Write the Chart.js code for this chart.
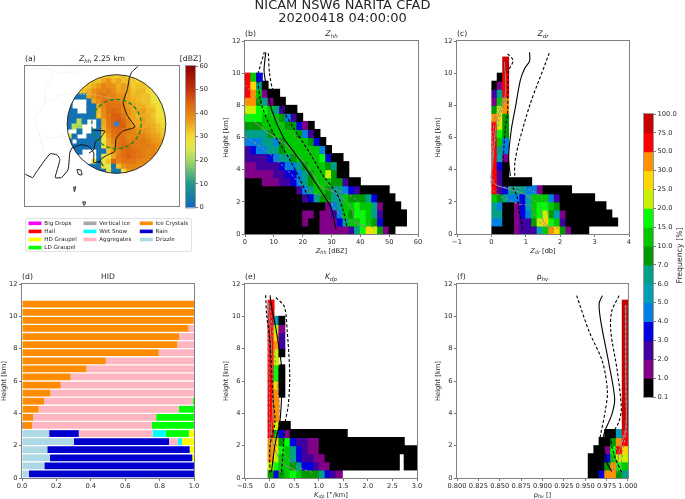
<!DOCTYPE html>
<html><head><meta charset="utf-8">
<style>html,body{margin:0;padding:0;background:#fff;width:685px;height:499px;overflow:hidden}
canvas{position:absolute;display:block}
#lb{position:absolute;left:25px;top:218px;width:165px;height:32px;border:1px solid #e2e2e2;border-radius:2px}</style>
<script src="https://cdn.jsdelivr.net/npm/chart.js@4/dist/chart.umd.js"></script>
</head><body><div id="lb"></div>
<script>
// ---------- shared scale / colour tables ----------
const freqBounds = [0.1,1,2,3,4,5,6,7,10,15,20,25,30,50,75,100];
const freqColors = ['#000000','#800088','#4000a0','#0000e0','#0080e0','#009fb4','#009f88','#009900','#00c800','#00ff00','#c8f000','#ffd700','#ff9000','#ff0000','#c80000'];
const freqTickLabels = ['0.1','1.0','2.0','3.0','4.0','5.0','6.0','7.0','10.0','15.0','20.0','25.0','30.0','50.0','75.0','100.0'];
const dbzStops = [0,10,20,25,30,38,45,50,60];
const dbzStopColors = [[16,104,190],[30,150,140],[160,216,100],[222,232,80],[242,222,54],[234,146,22],[218,96,16],[200,50,14],[140,0,0]];
const heightBinsKm = [0.25,0.75,1.25,1.75,2.25,2.75,3.25,3.75,4.25,4.75,5.25,5.75,6.25,6.75,7.25,7.75,8.25,8.75,9.25,9.75,10.25,10.75];

// ---------- Z_hh CFAD: each row is [edge, freq, edge, freq, ..., edge], bottom row first ----------
const zhhRows = [
[0,.5,26,1.5,36,2.5,38,6.5,40,17,42,27,44,22,46,8.5,48,1.5,50,.5,52],
[0,.5,20,1.5,22,.5,26,1.5,32,3.5,34,6.5,36,12,40,17,42,12,44,8.5,46,3.5,48,.5,56],
[0,.5,20,1.5,24,.5,26,1.5,30,2.5,32,4.5,34,12,36,8.5,38,17,42,12,44,6.5,46,2.5,48,.5,56],
[0,.5,28,1.5,30,4.5,32,6.5,34,12,38,17,40,12,44,6.5,46,1.5,48,.5,54],
[0,.5,20,2.5,22,3.5,24,6.5,26,8.5,30,6.5,34,12,36,8.5,42,6.5,44,3.5,46,.5,52],
[0,.5,18,2.5,20,4.5,22,6.5,24,12,28,8.5,30,6.5,34,4.5,36,3.5,38,2.5,40,.5,50],
[0,.5,6,1.5,12,2.5,16,3.5,18,4.5,20,6.5,22,8.5,24,12,30,8.5,34,2.5,36,.5,40],
[0,1.5,10,2.5,14,3.5,18,4.5,20,6.5,22,8.5,24,12,28,22,30,8.5,32,.5,36],
[0,1.5,4,2.5,12,3.5,14,4.5,18,6.5,20,8.5,22,12,28,8.5,30,6.5,32,.5,36],
[0,2.5,8,3.5,10,4.5,12,6.5,16,8.5,18,12,26,17,28,3.5,30,.5,34],
[0,2.5,2,3.5,4,4.5,8,6.5,12,8.5,14,12,26,4.5,28,.5,30],
[0,4.5,6,6.5,10,4.5,12,8.5,14,12,22,8.5,24,3.5,26,.5,28],
[0,6.5,8,8.5,10,12,18,8.5,20,4.5,22,2.5,24,.5,26],
[0,8.5,6,12,14,8.5,18,3.5,20,1.5,22,.5,24],
[0,17,6,12,12,8.5,14,4.5,16,2.5,18,.5,20],
[0,22,4,17,8,12,10,6.5,12,2.5,14,.5,18],
[0,40,4,8.5,6,6.5,8,1.5,10,.5,14],
[0,60,2,40,4,12,6,1.5,8,.5,12],
[0,60,2,27,4,6.5,6,.5,8],
[0,60,2,12,4,3.5,6]];
const zdrRows = [
[0,.5,.67,1.5,.83,2.5,1.33,5.5,1.5,12,1.67,40,1.83,27,2,8.5,2.17,1.5,2.33,.5,2.83],
[0,4.5,.33,.5,.67,1.5,.83,2.5,1.17,8.5,1.33,22,1.5,27,1.67,17,1.83,12,2,2.5,2.17,.5,3.67],
[0,6.5,.33,.5,.67,1.5,.83,3.5,1,4.5,1.17,12,1.33,17,1.5,22,1.67,8.5,1.83,5.5,2,1.5,2.17,.5,3.5],
[0,6.5,.17,4.5,.33,.5,.67,1.5,.83,3.5,1,5.5,1.17,12,1.33,17,1.67,12,1.83,8.5,2,.5,3.33],
[0,12,.17,8.5,.33,6.5,.5,4.5,.83,3.5,1,5.5,1.17,12,1.67,4.5,1.83,2.5,2,.5,3],
[0,60,.17,2.5,.33,3.5,.5,6.5,1,4.5,1.33,1.5,1.5,.5,2.33],
[0,60,.17,2.5,.33,.5,1.17],
[0,60,.17,2.5,.33,.5,.5],
[0,60,.17,3.5,.33,.5,.5],
[0,60,.17,5.5,.33,1.5,.5],
[0,60,.17,6.5,.33,4.5,.5],
[0,60,.17,12,.33,4.5,.5],
[0,60,.17,17,.33,8.5,.5],
[0,60,.17,22,.33,8.5,.5],
[0,40,.17,27,.33,8.5,.5],
[0,8.5,.17,22,.33,40,.5],
[0,1.5,.17,12,.33,40,.5],
[0,2.5,.17,6.5,.33,60,.5],
[0,.5,.17,1.5,.33,60,.5],
[.17,.5,.33,60,.5],
[.33,90,.5],
[.33,90,.5]];
const kdpRows = [
[-.03,8.5,.09,3.5,.19,8.5,.31,12,.42,17,.55,12,.66,8.5,1.01,6.5,1.13,3.5,1.23,2.5,1.36,1.5,1.48],
[-.03,22,.09,17,.19,12,.42,8.5,.55,6.5,.66,3.5,.9,2.5,1.01,1.5,1.23,.5,2.64,null,2.74,.5,3],
[-.03,40,.09,22,.19,12,.42,6.5,.55,3.5,.66,2.5,.9,1.5,1.13,.5,2.64,null,2.74,.5,3],
[-.03,40,.09,27,.19,17,.31,12,.42,6.5,.55,3.5,.66,2.5,.78,1.5,1.01,.5,3],
[-.03,40,.09,27,.19,8.5,.31,17,.42,3.5,.55,2.5,.78,1.5,1.01,.5,2.74],
[-.03,60,.09,8.5,.19,3.5,.31,1.5,.42,.5,1.58],
[-.03,60,.09,22,.19,.5,.42],
[-.03,60,.09,40,.19],
[-.03,60,.09,40,.19],
[-.03,60,.09,40,.19],
[-.03,60,.09,40,.19,.5,.31],
[-.03,60,.09,27,.19,.5,.31],
[-.03,60,.09,17,.19,.5,.31],
[-.03,60,.09,17,.19,.5,.31],
[-.03,60,.09,22,.19],
[-.03,60,.09,22,.19,.5,.31],
[-.03,60,.09,40,.19,2.5,.31],
[-.03,60,.09,27,.19,2.5,.31],
[-.03,60,.09,22,.19,1.5,.31],
[-.03,60,.09,5.5,.19,.5,.31],
[-.03,60,.09],
[-.03,60,.09]];
const rhvRows = [
[.9536,.5,.9663,3.5,.9729,40,.9865,8.5,.9934,6.5,1],
[.9536,.5,.9729,8.5,.9799,40,.9865,17,.9934,12,1],
[.9536,.5,.9729,3.5,.9799,12,.9865,22,1],
[.9602,.5,.9729,1.5,.9799,17,.9865,60,.9934,27,1],
[.9663,.5,.9799,8.5,.9865,40,.9934,60,1],
[.9729,.5,.9865,5.5,.9934,60,1],
[.9934,90,1],[.9934,90,1],[.9934,90,1],[.9934,90,1],[.9934,90,1],[.9934,90,1],[.9934,90,1],[.9934,90,1],
[.9934,90,1],[.9934,90,1],[.9934,90,1],[.9934,90,1],[.9934,90,1],[.9934,90,1],[.9934,90,1],[.9934,90,1]];

// ---------- profile lines: [value, height] ----------
const zhhMean=[[31.6,.25],[30.1,1.5],[28.4,2.1],[25.1,3],[21.4,4],[17.4,5],[13.3,6],[9.3,7.7],[7,9.6],[6.6,10.2],[7.2,11.3]];
const zhhLow=[[22.6,2],[19.7,3.15],[15.6,4.6],[9.8,6.3],[5.8,8],[4.4,9.6],[4.6,10],[6.7,11.3]];
const zhhHigh=[[35.3,.5],[34,1.5],[31.9,2.5],[27.2,3.6],[22.6,5],[16.8,6.6],[12.2,8],[9.6,9],[8.5,10],[8.1,11.3]];
const zhhGrayMean=[[0,7.5],[6.4,6.5],[13,5.7],[20,4.6],[24,3.6],[26,3],[32,2.5],[37,1.6],[38,.9],[42,.4]];
const zhhGrayLow=[[0,6.05],[6.4,5.3],[14.5,4],[21.4,2.75],[28.4,2.2],[33.6,1.1],[41.7,.4]];
const zhhGrayHigh=[[0,9.3],[6.4,7.9],[14.5,6.5],[22,5.3],[25.5,4.1],[29.5,3],[38.8,2.1],[40.5,1.1],[45.2,.25]];
const zdrMean=[[1.11,11.3],[1.11,10.75],[.97,10.3],[.84,9.55],[.7,7.9],[.58,6.5],[.5,4.8],[.55,3.6]];
const zdrMeanLower=[[.62,2.9],[.75,2.3],[.8,1.5],[.92,.25]];
const zdrLow=[[.47,11.2],[.63,10.8],[.5,10.1],[.47,7.5],[.4,6.5],[.34,4.4]];
const zdrHigh=[[1.68,11.25],[1.57,10.6],[1.13,8.1],[.79,5.6],[.68,4.4],[.68,3.6]];
const zdrGrayMean=[[.38,10.7],[.41,8.7],[.16,7.1],[.04,4.4],[.04,3.2],[.94,2.5],[1.42,1.7],[1.5,.8],[1.83,.27]];
const zdrGrayLow=[[.34,8.5],[.09,7.1],[.02,4.4],[.04,2.75],[.74,1.9],[1.18,1.7],[1.32,.9],[1.71,.27]];
const zdrGrayHigh=[[.47,8.6],[.2,6.9],[.07,3.2],[1.13,2.75],[1.6,1.9],[1.66,1.1],[1.95,.3]];
const kdpMean=[[.01,11.3],[.04,10.6],[.14,9.05],[.24,7],[.25,5.55],[.21,3.5],[.11,2.05],[.04,.4]];
const kdpLow=[[-.08,11.3],[-.06,10.1],[.01,8.4],[.07,4.9],[.11,3.5],[.01,2],[.01,.2]];
const kdpHigh=[[.13,11.15],[.3,10.6],[.36,9.05],[.41,6.4],[.38,4.5],[.31,3.3],[.275,1.65],[.24,.2]];
const kdpGrayMean=[[-.03,10.9],[.04,8],[.06,4],[.04,2.5],[.24,1],[.58,.4]];
const kdpGrayLow=[[-.04,10.6],[0,5],[.01,2.2],[.08,1],[.24,.3]];
const kdpGrayHigh=[[.01,10.7],[.12,7],[.21,3.5],[.11,2.25],[.51,.8],[.91,.3]];
const rhvMean=[[.9702,11.28],[.9663,10.8],[.9683,9.67],[.978,7],[.9845,4.9],[.981,3.9],[.973,2.9],[.971,2.4],[.975,1],[.981,.4]];
const rhvLow=[[.94,11.28],[.9547,9.05],[.9702,7.2],[.976,5.35],[.9733,4.1],[.968,2.67],[.967,2.4]];
const rhvHigh=[[.9896,11.28],[.981,10.3],[.98,9.05],[.9876,6.6],[.9923,4.3],[.9896,3.5],[.9837,2.9],[.98,2.47],[.984,1.4],[.993,.3]];
const rhvGrayMean=[[.9973,10.7],[.9975,6],[.9975,3],[.99,1.7],[.987,.3]];
const rhvGrayLow=[[.9969,10.7],[.997,6],[.9971,3],[.985,1.6],[.983,.3]];
const rhvGrayHigh=[[.9977,10.7],[.9978,6],[.998,3],[.994,1.7],[.991,.3]];

// ---------- HID fractions per height bin, bottom bin first ----------
const hidDrizzle=[.04,.13,.163,.147,.302,.158,0,0,0,0,0,0,0,0,0,0,0,0,0,0,0,0];
const hidRain=[.96,.87,.827,.828,.553,.172,.005,0,0,0,0,0,0,0,0,0,0,0,0,0,0,0];
const hidIce=[0,0,0,0,0,0,.053,.065,.097,.128,.165,.225,.283,.375,.487,.795,.903,.913,.968,.998,1,1];
const hidAggregates=[0,0,0,0,.05,.43,.697,.715,.815,.865,.835,.775,.717,.625,.513,.205,.097,.087,.032,.002,0,0];
const hidWetSnow=[0,0,0,0,.025,.075,0,0,0,0,0,0,0,0,0,0,0,0,0,0,0,0];
const hidLD=[0,0,0,0,0,.135,.245,.22,.088,.007,0,0,0,0,0,0,0,0,0,0,0,0];
const hidHD=[0,0,.01,.025,.07,.03,0,0,0,0,0,0,0,0,0,0,0,0,0,0,0,0];
const hidStack=[['Drizzle',hidDrizzle,'#add8e6'],['Rain',hidRain,'#0000cd'],['Ice Crystals',hidIce,'#ff8c00'],['Aggregates',hidAggregates,'#ffb6c1'],['Wet Snow',hidWetSnow,'#00ffff'],['LD Graupel',hidLD,'#00ff00'],['HD Graupel',hidHD,'#ffff00']];
const legendNames=['Big Drops','Hail','HD Graupel','LD Graupel   ','Vertical Ice    ','Wet Snow','Aggregates','','Ice Crystals','Rain','Drizzle'];
const legendColors=['#ff00ff','#ff0000','#ffff00','#00ff00','#a9a9a9','#00ffff','#ffb6c1','rgba(0,0,0,0)','#ff8c00','#0000cd','#add8e6'];

// ---------- PPI Z_hh 2.25 km, 15 km cells from NW corner (-150,150); null = no echo ----------
const n=null;
const ppiGrid=[
[30,30,30,30,30,30,31,31,33,32,32,34,31,31,31,31,31,30,30,30],
[30,30,30,30,31,33,33,36,38,34,36,33,34,32,31,32,31,30,30,30],
[30,30,30,31,33,35,37,40,38,38,35,37,35,32,33,33,31,30,29,29],
[30,30,31,33,35,38,40,40,41,39,36,37,36,33,34,34,31,30,28,27],
[2,2,2,4,36,38,41,42,40,40,38,38,36,34,34,33,33,28,27,26],
[2,n,n,n,2,36,39,42,42,42,41,38,36,35,34,33,33,30,27,24],
[2,n,n,n,2,2,36,40,43,42,42,40,37,36,35,35,33,32,30,27],
[2,2,n,n,2,2,34,39,43,44,43,40,38,36,36,37,34,34,30,27],
[3,2,2,3,2,2,33,39,42,45,45,42,38,36,34,36,35,33,30,29],
[2,2,22,3,n,n,2,36,42,44,46,44,40,36,35,37,35,34,31,30],
[2,22,20,n,n,n,2,35,41,44,45,45,40,37,36,36,36,35,33,31],
[n,n,2,n,n,2,2,34,40,43,44,42,41,40,38,38,37,36,34,32],
[28,2,n,n,2,2,3,30,38,42,43,42,40,40,40,40,38,37,36,33],
[2,n,2,2,2,2,3,28,36,40,42,43,41,41,41,41,40,38,37,36],
[2,2,2,2,2,2,2,30,36,38,42,44,43,42,41,41,41,40,38,36],
[2,2,2,n,n,n,2,2,33,38,40,43,44,43,42,41,40,40,38,37],
[2,2,n,n,n,n,2,26,30,36,41,43,45,43,42,41,40,40,38,37],
[2,2,2,n,n,28,2,28,33,44,40,42,42,42,40,40,39,38,37,36],
[2,2,2,2,2,2,2,30,25,3,33,38,40,40,39,38,38,37,36,35],
[2,2,2,2,2,2,2,2,28,3,3,30,37,38,38,37,37,36,35,35]];
const ppiCellKm=15, ppiEdgeKm=-150;
const ringRadiiKm=[150,75];
const radarSite=[[0,0]];
const coastLines=[
[[65,172],[48,157],[40,142],[33,103],[20,64],[33,25],[56,-9],[19,-21],[-1,-43],[-6,-82],[-30,-94],[-45,-103],[-55,-116]],
[[-74,-19],[-35,-21],[-50,-43],[-64,-53],[-69,-77],[-84,-87]],
[[-136,-72],[-108,-62],[-84,-67],[-69,-87],[-69,-116],[-50,-111],[-40,-126]],
[[-277,-150],[-255,-160],[-245,-146],[-220,-111],[-201,-89],[-181,-92],[-172,-106],[-181,-140],[-186,-160],[-167,-160],[-147,-136],[-142,-87],[-136,-72]],
[[-120,-136],[-108,-138],[-105,-152],[-116,-150],[-120,-136]],
[[-130,-189],[-124,-187],[-128,-202],[-130,-189]],
[[-103,-233],[-94,-233],[-98,-243],[-103,-233]]];
const borderLines=[
[[-269,162],[-235,166],[-201,162],[-176,152],[-118,156],[-98,166]],
[[-201,162],[-196,133],[-220,103],[-215,64],[-176,84],[-147,89]],
[[-215,64],[-249,16],[-235,-33],[-220,-87]],
[[-235,-33],[-196,-43],[-157,-33],[-142,-82]],
[[-147,89],[-68,88],[-30,80],[20,70]]];

// ---------- helpers ----------
const FONT='"DejaVu Sans"', INK='#262626', TICK=6.7, TITLE=7.7;
Chart.defaults.font.family=FONT; Chart.defaults.color=INK;
Chart.defaults.animation=false; Chart.defaults.responsive=false;
Chart.defaults.plugins.legend.display=false; Chart.defaults.plugins.tooltip.enabled=false;

function freqColor(f){let i=0;while(i<freqColors.length-1&&f>=freqBounds[i+1])i++;return freqColors[i];}
function dbzColor(v){let i=0;while(i<dbzStops.length-2&&v>=dbzStops[i+1])i++;
  const t=Math.min(1,(v-dbzStops[i])/(dbzStops[i+1]-dbzStops[i]));
  const a=dbzStopColors[i],b=dbzStopColors[i+1];
  return 'rgb('+a.map((c,k)=>Math.round(c+(b[k]-c)*t)).join(',')+')';}
function heatDataset(rows){
  const data=[],colors=[];
  rows.forEach((r,i)=>{for(let k=0;k+2<r.length;k+=2){ if(r[k+1]==null)continue;
    data.push({x:[r[k],r[k+2]],y:heightBinsKm[i]});colors.push(freqColor(r[k+1]));}});
  return {type:'bar',data,backgroundColor:colors,barPercentage:1,categoryPercentage:1,inflateAmount:.5,order:3};
}
function line(pts,color,dash,order,w){return {type:'scatter',showLine:true,data:pts.map(p=>({x:p[0],y:p[1]})),
  borderColor:color,backgroundColor:color,borderWidth:w||1.1,borderDash:dash||[],pointRadius:0,tension:.3,order:order};}
function profileSets(mean,low,high,gm,gl,gh){return [
  line(gm,'#8c8c8c',[],2,1),line(gl,'#8c8c8c',[3,2],2,1),line(gh,'#8c8c8c',[3,2],2,1),
  line(mean,'#000',[],1),line(low,'#000',[3,2],1),line(high,'#000',[3,2],1)];}
function mathText(ctx,parts,x,y,size,align){
  const font=(p)=>(p[1]==='r'?'':'italic ')+(p[1]==='s'?size*.72:size)+'px '+FONT;
  let w=0;parts.forEach(p=>{ctx.font=font(p);w+=ctx.measureText(p[0]).width;});
  let cx=align==='left'?x:x-w/2;
  ctx.fillStyle=INK;ctx.textBaseline='middle';ctx.textAlign='left';
  parts.forEach(p=>{ctx.font=font(p);ctx.fillText(p[0],cx,y+(p[1]==='s'?size*.22:0));cx+=ctx.measureText(p[0]).width;});
}
function panelPlugin(tag,title,xlabel){return {id:'panelText',afterDraw(c){
  const {ctx,chartArea:a}=c;ctx.save();
  ctx.strokeStyle='#808080';ctx.lineWidth=1;
  ctx.strokeRect(a.left-.5,a.top-.5,a.right-a.left+1,a.bottom-a.top+1);
  mathText(ctx,[[tag,'r']],a.left,a.top-6.5,TITLE,'left');
  mathText(ctx,title,(a.left+a.right)/2,a.top-6.5,TITLE,'center');
  if(xlabel)mathText(ctx,xlabel,(a.left+a.right)/2,a.bottom+17,TICK,'center');
  ctx.restore();}};}
function linearAxis(min,max,step,fmt,extra){return Object.assign({type:'linear',min,max,offset:false,
  grid:{display:true,offset:false,drawOnChartArea:false,drawTicks:true,tickLength:3,color:'#555',tickWidth:.8},
  border:{display:false},
  ticks:{stepSize:step,autoSkip:false,maxRotation:0,minRotation:0,padding:1.5,font:{size:TICK},color:INK,callback:fmt},
  afterFit:s=>{}},extra||{});}
function place(box,m,cfg){
  const cv=document.createElement('canvas');
  const W=box.r-box.l+m.l+m.r,H=box.b-box.t+m.t+m.b;
  cv.width=W;cv.height=H;cv.style.left=(box.l-m.l)+'px';cv.style.top=(box.t-m.t)+'px';
  cv.style.width=W+'px';cv.style.height=H+'px';document.body.appendChild(cv);
  const o=cfg.options=cfg.options||{};
  o.events=[];o.maintainAspectRatio=false;
  const sx=o.scales.x,sy=o.scales.y;
  o.layout={padding:{left:sy.display===false||sy.position==='right'?m.l:0,top:m.t,
    right:sy.position==='right'?0:m.r,bottom:sx.display===false?m.b:0}};
  if(sx.display!==false)sx.afterFit=s=>{s.height=m.b;};
  if(sy.display!==false)sy.afterFit=s=>{s.width=sy.position==='right'?m.r:m.l;};
  return new Chart(cv,cfg);
}
const M={l:23,r:10,t:13,b:24};
const yAxis=()=>{const a=linearAxis(0,12,2,v=>String(v));
  a.title={display:true,text:'Height [km]',font:{size:TICK},color:INK,padding:0};return a;};
function cfadPanel(box,tag,title,xlabel,rows,lines,xmin,xmax,step,fmt){
  place(box,M,{type:'bar',data:{datasets:[heatDataset(rows)].concat(lines)},
    options:{indexAxis:'y',scales:{x:linearAxis(xmin,xmax,step,fmt),y:yAxis()}},
    plugins:[panelPlugin(tag,title,xlabel)]});
}
const Zhh=[['Z','i'],['hh','s']],Zdr=[['Z','i'],['dr','s']],Kdp=[['K','i'],['dp','s']],Rhv=[['ρ','r'],['hv','s']];

// ---------- figure title ----------
place({l:0,r:685,t:0,b:26},{l:0,r:0,t:0,b:0},{type:'bar',data:{datasets:[]},options:{
  scales:{x:{display:false},y:{display:false}},
  plugins:{title:{display:true,text:['NICAM NSW6 NARITA CFAD','20200418 04:00:00'],padding:{top:0,bottom:0},
    font:{size:13,weight:'normal',lineHeight:.94},color:INK}}}});

// ---------- (a) PPI ----------
(function(){
  const cells=[],colors=[];
  ppiGrid.forEach((row,i)=>row.forEach((v,j)=>{ if(v==null)return;
    cells.push({x:[ppiEdgeKm+j*ppiCellKm,ppiEdgeKm+(j+1)*ppiCellKm],y:-ppiEdgeKm-(i+.5)*ppiCellKm});colors.push(dbzColor(v));}));
  const sets=[{type:'bar',radar:true,data:cells,backgroundColor:colors,barPercentage:1,categoryPercentage:1,inflateAmount:.5,order:5}];
  borderLines.forEach(l=>sets.push(Object.assign(line(l,'#dcdcdc',[1.5,1.5],4,.6),{tension:0})));
  coastLines.forEach(l=>sets.push(Object.assign(line(l,'#111',[],2,1),{tension:.15})));
  sets.push({type:'scatter',data:radarSite.map(p=>({x:p[0],y:p[1]})),backgroundColor:'#3d7fc4',borderColor:'#3d7fc4',pointRadius:2.4,order:1});
  place({l:22,r:182,t:66,b:209},{l:2,r:2,t:13,b:2},{type:'bar',data:{datasets:sets},
    options:{indexAxis:'y',scales:{
      x:{type:'linear',display:false,min:-278,max:190,offset:false},
      y:{type:'linear',display:false,min:-245,max:173.4,offset:false}}},
    plugins:[{id:'discClip',
      beforeDatasetDraw(c,args){ if(!c.data.datasets[args.index].radar)return;
        const x=c.scales.x,y=c.scales.y,ctx=c.ctx;ctx.save();ctx.beginPath();
        ctx.arc(x.getPixelForValue(0),y.getPixelForValue(0),x.getPixelForValue(ringRadiiKm[0])-x.getPixelForValue(0),0,7);ctx.clip();},
      afterDatasetDraw(c,args){ if(c.data.datasets[args.index].radar)c.ctx.restore();},
      afterDatasetsDraw(c){const x=c.scales.x,y=c.scales.y,ctx=c.ctx,cx=x.getPixelForValue(0),cy=y.getPixelForValue(0);
        ctx.save();
        ctx.strokeStyle='#1f1f1f';ctx.lineWidth=.9;ctx.beginPath();ctx.arc(cx,cy,x.getPixelForValue(ringRadiiKm[0])-cx,0,7);ctx.stroke();
        ctx.strokeStyle='#128a22';ctx.lineWidth=1.3;ctx.setLineDash([4,2.4]);ctx.beginPath();ctx.arc(cx,cy,x.getPixelForValue(ringRadiiKm[1])-cx,0,7);ctx.stroke();
        ctx.restore();}},
      panelPlugin('(a)',[['Z','i'],['hh','s'],[' 2.25 km','r']],null)]});
})();
// dBZ colour bar
(function(){
  const steps=[];for(let v=0;v<60;v++)steps.push(v);
  const ds={type:'bar',data:steps.map(v=>({x:[0,1],y:v+.5})),backgroundColor:steps.map(v=>dbzColor(v+.5)),barPercentage:1,categoryPercentage:1,inflateAmount:.5};
  const ya=linearAxis(0,60,10,v=>String(v),{position:'right'});
  place({l:186,r:195,t:66,b:209},{l:8,r:18,t:13,b:4},{type:'bar',data:{datasets:[ds]},
    options:{indexAxis:'y',scales:{x:{type:'linear',display:false,min:0,max:1,offset:false},y:ya}},
    plugins:[{id:'unit',afterDraw(c){const a=c.chartArea,ctx=c.ctx;ctx.save();
      ctx.strokeStyle='#808080';ctx.lineWidth=.8;ctx.strokeRect(a.left-.5,a.top-.5,a.right-a.left+1,a.bottom-a.top+1);
      mathText(ctx,[['[dBZ]','r']],a.left+4.5,a.top-6.5,TITLE,'center');ctx.restore();}}]});
})();

// ---------- legend ----------
place({l:26,r:191,t:218,b:255},{l:0,r:0,t:0,b:0},{type:'bar',
  data:{datasets:legendNames.map((nm,i)=>({label:nm,data:[],backgroundColor:legendColors[i]}))},
  options:{scales:{x:{display:false},y:{display:false}},
    plugins:{legend:{display:true,position:'left',align:'start',maxWidth:165,
      labels:{boxWidth:13,boxHeight:3.6,padding:2.5,font:{size:5.6},color:INK}}}}});

// ---------- CFAD panels ----------
const int=v=>String(v), one=v=>Number(v).toFixed(1), three=v=>Number(v).toFixed(3);
cfadPanel({l:245,r:418,t:41,b:234},'(b)',Zhh,Zhh.concat([[' [dBZ]','r']]),zhhRows,profileSets(zhhMean,zhhLow,zhhHigh,zhhGrayMean,zhhGrayLow,zhhGrayHigh),0,60,10,int);
cfadPanel({l:457,r:629,t:41,b:234},'(c)',Zdr,Zdr.concat([[' [db]','r']]),zdrRows,profileSets(zdrMean,zdrLow,zdrHigh,zdrGrayMean,zdrGrayLow,zdrGrayHigh).concat([line(zdrMeanLower,'#000',[3,2],1)]),-1,4,1,v=>String(v).replace('-','\u2212'));
cfadPanel({l:245,r:417,t:284,b:478},'(e)',Kdp,Kdp.concat([[' [°/km]','r']]),kdpRows,profileSets(kdpMean,kdpLow,kdpHigh,kdpGrayMean,kdpGrayLow,kdpGrayHigh),-.5,3,.5,v=>one(v).replace('-','\u2212'));
cfadPanel({l:457,r:629,t:284,b:478},'(f)',Rhv,Rhv.concat([[' []','r']]),rhvRows,profileSets(rhvMean,rhvLow,rhvHigh,rhvGrayMean,rhvGrayLow,rhvGrayHigh),.8,1,.025,three);

// ---------- (d) HID ----------
place({l:22,r:194,t:284,b:478},{l:22,r:10,t:13,b:24},{type:'bar',
  data:{datasets:hidStack.map(s=>({label:s[0],data:s[1].map((v,i)=>({x:v,y:heightBinsKm[i]})),backgroundColor:s[2],barPercentage:.84,categoryPercentage:1,inflateAmount:0}))},
  options:{indexAxis:'y',scales:{x:linearAxis(0,1,.2,one,{stacked:true}),y:Object.assign(yAxis(),{stacked:true})}},
  plugins:[panelPlugin('(d)',[['HID','r']],null)]});

// ---------- frequency colour bar ----------
(function(){
  const ds={type:'bar',data:freqColors.map((c,i)=>({x:[0,1],y:i+.5})),backgroundColor:freqColors,barPercentage:1,categoryPercentage:1,inflateAmount:.5};
  const ya=linearAxis(0,15,1,v=>freqTickLabels[v],{position:'right'});
  place({l:644,r:653,t:114,b:397},{l:2,r:32,t:6,b:6},{type:'bar',data:{datasets:[ds]},
    options:{indexAxis:'y',scales:{x:{type:'linear',display:false,min:0,max:1,offset:false},y:ya}},
    plugins:[{id:'cbText',afterDraw(c){const a=c.chartArea,ctx=c.ctx;ctx.save();
      ctx.strokeStyle='#808080';ctx.lineWidth=.8;ctx.strokeRect(a.left-.5,a.top-.5,a.right-a.left+1,a.bottom-a.top+1);
      ctx.translate(a.right+27,(a.top+a.bottom)/2);ctx.rotate(-Math.PI/2);
      ctx.font='7.8px '+FONT;ctx.fillStyle=INK;ctx.textAlign='center';ctx.textBaseline='middle';
      ctx.fillText('Frequency [%]',0,0);ctx.restore();}}]});
})();
</script></body></html>
